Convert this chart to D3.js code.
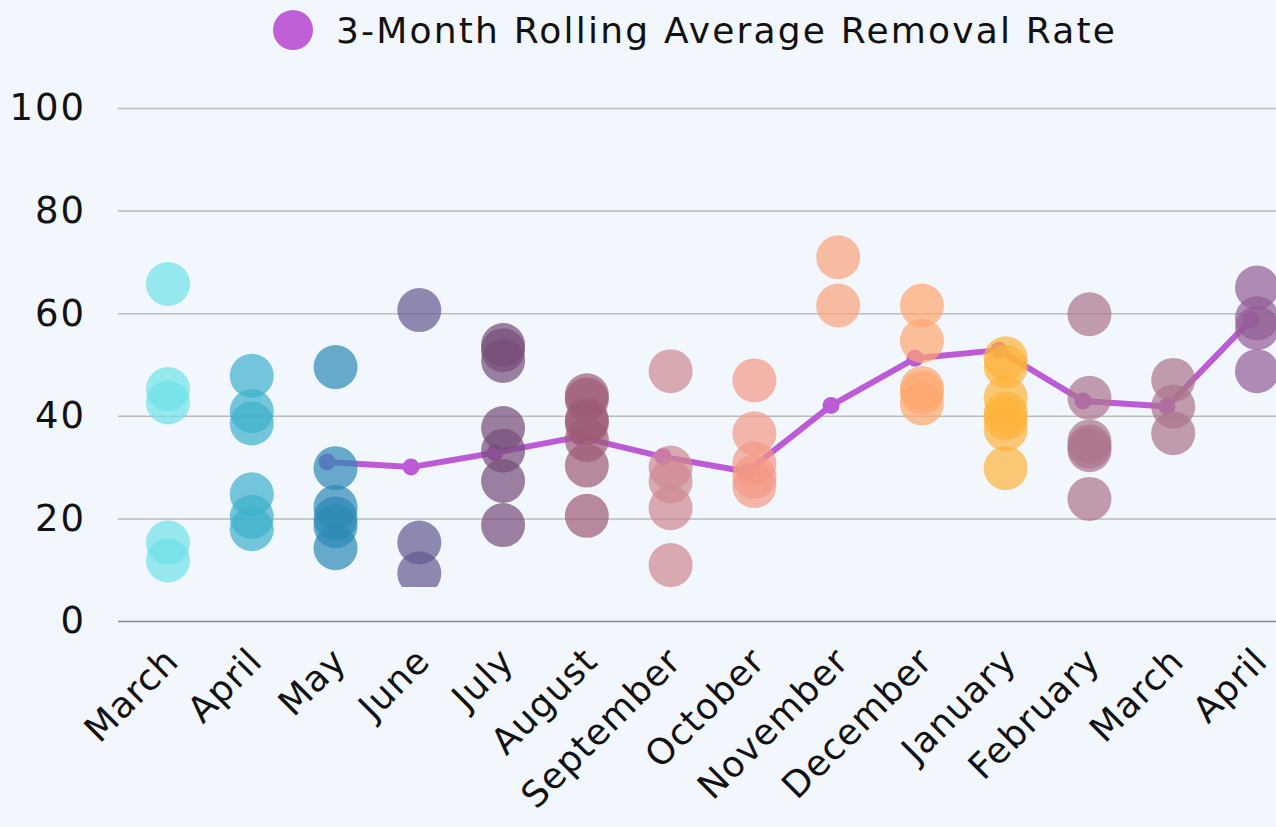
<!DOCTYPE html>
<html>
<head>
<meta charset="utf-8">
<script src="https://cdn.jsdelivr.net/npm/d3@7"></script>
<style>
  html, body { margin: 0; padding: 0; background: #f2f6fd; }
  svg { display: block; }
  text { font-family: "DejaVu Sans", sans-serif; fill: #111; }
</style>
</head>
<body>
<svg id="chart" width="1276" height="827"></svg>
<script>
const months = ["March", "April", "May", "June", "July", "August", "September",
    "October", "November", "December", "January", "February", "March", "April"];

// removal rates per month (one circle each)
const marRates = [65.7, 45.2, 42.6, 15.3, 11.8];
const aprRates = [47.8, 40.9, 38.5, 24.7, 20.3, 17.9];
const mayRates = [49.5, 29.8, 22.2, 20.0, 18.5, 14.2];
const junRates = [60.6, 15.3, 9.3];
const julRates = [53.8, 52.8, 50.7, 37.6, 33.2, 27.3, 18.7];
const augRates = [44.0, 43.2, 39.2, 38.6, 35.3, 30.3, 20.5];
const sepRates = [48.7, 29.9, 27.2, 22.0, 10.9];
const octRates = [46.9, 36.6, 30.7, 28.1, 26.3];
const novRates = [70.9, 61.5];
const decRates = [61.5, 54.6, 45.4, 44.5, 42.4];
const janRates = [51.2, 49.6, 43.5, 40.5, 39.5, 37.4, 29.8];
const febRates = [59.8, 43.5, 35.0, 34.0, 33.3, 23.8];
const mar2Rates = [47.0, 41.8, 36.6];
const apr2Rates = [65.0, 59.0, 57.1, 48.7];

const monthRates = [marRates, aprRates, mayRates, junRates, julRates, augRates, sepRates,
    octRates, novRates, decRates, janRates, febRates, mar2Rates, apr2Rates];

const rollingAvg = [null, null, 31.0, 30.0, 32.8, 35.9, 32.0, 29.1, 42.0, 51.2, 52.8, 42.9, 41.8, 58.7];

const monthColors = ["#6ce2e7", "#3db1cc", "#2b89b5", "#645a8f", "#764d78", "#9d5b75", "#ce8992",
    "#f49985", "#faa27b", "#fea76d", "#feb43b", "#ab758c", "#ab758c", "#935c96"];

const yTicks = [0, 20, 40, 60, 80, 100];

const lineColor = "#bd5bd6";

const svg = d3.select("#chart");

const idx = d3.range(months.length);

const xScale = d3.scalePoint().domain(idx).range([168, 1257]);
// the average line sits a little to the left of the circle columns
const xLine = d3.scalePoint().domain(idx).range([159, 1251]);

const yScale = d3.scaleLinear().domain([0, 100]).range([621, 108]);

// gridlines + y labels
const yAxis = d3.axisLeft(yScale)
    .tickValues(yTicks)
    .tickSize(-(1276 - 118))
    .tickPadding(32);

const gy = svg.append("g")
    .attr("transform", `translate(${118},0)`)
    .call(yAxis);
gy.select(".domain").remove();
gy.selectAll(".tick line")
    .attr("stroke", d => d === 0 ? "#888" : "#bbb")
    .attr("stroke-width", 1.5);
gy.selectAll(".tick text")
    .style("font-size", "37px")
    .style("letter-spacing", "2px")
    .attr("fill", "#111");

// x labels
const xAxis = d3.axisBottom(xScale)
    .tickFormat(i => months[i])
    .tickSize(0);

const gx = svg.append("g")
    .attr("transform", `translate(0,${621})`)
    .call(xAxis);
gx.select(".domain").remove();
gx.selectAll(".tick text")
    .style("font-size", "36px")
    .style("letter-spacing", "1px")
    .attr("fill", "#111")
    .attr("text-anchor", "end")
    .attr("dy", 0)
    .attr("transform", "translate(10,40) rotate(-45)");

// clip for chart area
svg.append("clipPath")
    .attr("id", "plotClip")
    .append("rect")
    .attr("x", 0)
    .attr("y", 0)
    .attr("width", 1276)
    .attr("height", 587);

const plot = svg.append("g").attr("clip-path", "url(#plotClip)");

// rolling average line
const lineData = idx.filter(i => rollingAvg[i] !== null);

const line = d3.line()
    .x(i => xLine(i))
    .y(i => yScale(rollingAvg[i]));

plot.append("path")
    .datum(lineData)
    .attr("d", line)
    .attr("fill", "none")
    .attr("stroke", lineColor)
    .attr("stroke-width", 6)
    .attr("stroke-linejoin", "round");

plot.selectAll(".avgpt")
    .data(lineData)
    .join("circle")
    .attr("class", "avgpt")
    .attr("cx", i => xLine(i))
    .attr("cy", i => yScale(rollingAvg[i]))
    .attr("r", 8.5)
    .attr("fill", lineColor);

// scatter circles
const points = [];
monthRates.forEach((rates, i) => {
    rates.forEach(v => points.push({ i: i, v: v }));
});

plot.selectAll(".dot")
    .data(points)
    .join("circle")
    .attr("class", "dot")
    .attr("cx", d => xScale(d.i))
    .attr("cy", d => yScale(d.v))
    .attr("r", 22)
    .attr("fill", d => monthColors[d.i])
    .attr("fill-opacity", 0.7);

// legend
const legend = svg.append("g").attr("transform", "translate(293,30)");
legend.append("circle")
    .attr("r", 20)
    .attr("fill", "#c05fd6");
legend.append("text")
    .attr("x", 43)
    .attr("y", 13)
    .text("3-Month Rolling Average Removal Rate")
    .style("font-size", "36px")
    .style("letter-spacing", "2.2px");
</script>
</body>
</html>
